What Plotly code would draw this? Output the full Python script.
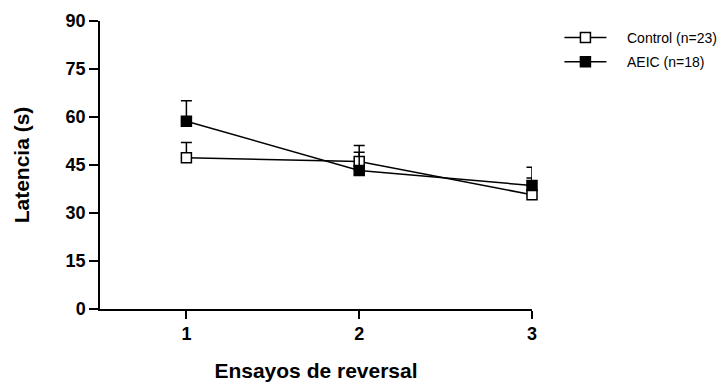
import plotly.graph_objects as go

trials = [1, 2, 3]
control_mean = [47.3, 46.1, 35.7]
control_sem = [4.7, 5.0, 5.2]
aeic_mean = [58.7, 43.3, 38.6]
aeic_sem = [6.4, 5.7, 5.7]
y_ticks = [0, 15, 30, 45, 60, 75, 90]
x_ticks = [1, 2, 3]
series_names = ["Control (n=23)", "AEIC (n=18)"]

FONT = "Liberation Sans, Arial, sans-serif"
PAD = "\u00a0" * 4

fig = go.Figure()
fig.add_trace(go.Scatter(
    x=trials, y=control_mean, name=PAD + series_names[0], mode="lines+markers",
    line=dict(color="black", width=1.5),
    marker=dict(symbol="square", size=10, color="white", line=dict(color="black", width=1.5)),
    error_y=dict(type="data", array=control_sem, arrayminus=[0]*3, symmetric=False,
                 color="black", thickness=1.5, width=5.5),
    cliponaxis=False, legendgroup="a",
))
fig.add_trace(go.Scatter(
    x=trials, y=aeic_mean, name=PAD + series_names[1], mode="lines+markers",
    line=dict(color="black", width=1.5),
    marker=dict(symbol="square", size=10, color="black", line=dict(color="black", width=1.5)),
    error_y=dict(type="data", array=aeic_sem, arrayminus=[0]*3, symmetric=False,
                 color="black", thickness=1.5, width=5.5),
    cliponaxis=False, legendgroup="b",
))

fig.update_layout(
    width=726, height=383,
    margin=dict(l=100, r=194, t=21, b=74, autoexpand=False),
    paper_bgcolor="white", plot_bgcolor="white",
    font=dict(family=FONT, color="black"),
    showlegend=True,
    legend=dict(x=1.0635, y=0.997, xanchor="left", yanchor="top",
                font=dict(size=14, family=FONT), traceorder="grouped",
                tracegroupgap=3, itemwidth=42, bgcolor="rgba(0,0,0,0)"),
    xaxis=dict(range=[0.5, 3], tickvals=x_ticks, ticktext=[str(v) for v in x_ticks],
               automargin=False,
               showgrid=False, zeroline=False, showline=True, linecolor="black", linewidth=1.5,
               ticks="outside", ticklen=8, tickwidth=1.5, tickcolor="black",
               tickfont=dict(size=18, family=FONT, weight="bold"),
               title=dict(text="Ensayos de reversal", font=dict(size=21, family=FONT, weight="bold"),
                          standoff=20)),
    yaxis=dict(range=[0, 90], tickvals=y_ticks, ticktext=[str(v) for v in y_ticks],
               automargin=False,
               showgrid=False, zeroline=False, showline=True, linecolor="black", linewidth=1.5,
               ticks="outside", ticklen=9, tickwidth=1.5, tickcolor="black",
               tickfont=dict(size=18, family=FONT, weight="bold"),
               title=dict(text="Latencia (s)", font=dict(size=21, family=FONT, weight="bold"),
                          standoff=30)),
)

fig.write_html("out.html")
